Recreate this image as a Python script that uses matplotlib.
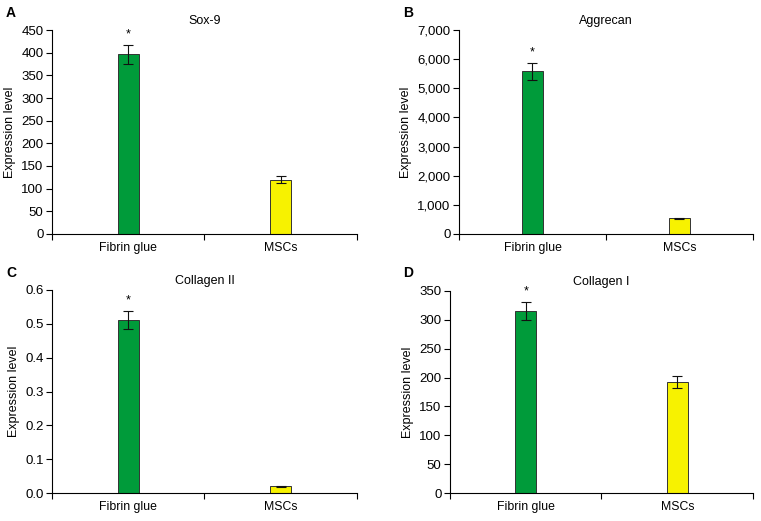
import matplotlib

matplotlib.use("Agg")
import matplotlib.pyplot as plt

plt.rcParams["font.family"] = ["Liberation Sans", "DejaVu Sans"]
plt.rcParams["font.size"] = 9

categories = ["Fibrin glue", "MSCs"]
colors = ["#009B3A", "#F7F200"]

titles = ["Sox-9", "Aggrecan", "Collagen II", "Collagen I"]
letters = ["A", "B", "C", "D"]

sox9_vals = [397, 120]
sox9_err = [21, 8]
aggrecan_vals = [5590, 540]
aggrecan_err = [290, 25]
col2_vals = [0.512, 0.020]
col2_err = [0.026, 0.002]
col1_vals = [316, 192]
col1_err = [15.5, 10.5]

values = [sox9_vals, aggrecan_vals, col2_vals, col1_vals]
errors = [sox9_err, aggrecan_err, col2_err, col1_err]
ylims = [(0, 450), (0, 7000), (0, 0.6), (0, 350)]
ysteps = [50, 1000, 0.1, 50]
yfmts = ["{:.0f}", "{:,.0f}", "{:.1f}", "{:.0f}"]

# axes rectangles in figure fractions (left, bottom, width, height)
rects = [
    (0.0683, 0.5509, 0.4007, 0.3915),
    (0.6031, 0.5509, 0.3864, 0.3915),
    (0.0683, 0.0537, 0.4007, 0.3897),
    (0.5913, 0.0537, 0.3982, 0.3878),
]
letter_pos = [(0.008, 0.975), (0.530, 0.975), (0.008, 0.476), (0.530, 0.476)]

fig = plt.figure(figsize=(7.61, 5.21), dpi=100)

for i in range(4):
    ax = fig.add_axes(rects[i])
    x = [0, 1]
    ax.bar(x, values[i], width=0.14, color=colors, edgecolor="#333333", linewidth=0.7, zorder=2)
    ax.errorbar(x, values[i], yerr=errors[i], fmt="none", ecolor="#111111",
                elinewidth=0.8, capsize=3.5, capthick=0.8, zorder=3)
    top = values[i][0] + errors[i][0]
    ax.annotate("*", (0, top), xytext=(0, 3), textcoords="offset points",
                ha="center", va="bottom", fontsize=9)
    ax.set_xlim(-0.5, 1.5)
    lo, hi = ylims[i]
    ax.set_ylim(lo, hi)
    n = int(round((hi - lo) / ysteps[i]))
    ticks = [lo + k * ysteps[i] for k in range(n + 1)]
    ax.set_yticks(ticks)
    ax.set_yticklabels([yfmts[i].format(t) for t in ticks], fontsize=9.5)
    ax.set_xticks(x)
    ax.set_xticklabels(categories, fontsize=8.8)
    ax.set_xticks([-0.5, 0.5, 1.5], minor=True)
    ax.tick_params(axis="x", which="major", length=0, pad=6)
    ax.tick_params(axis="x", which="minor", length=4, width=0.8)
    ax.tick_params(axis="y", length=4, width=0.8, pad=2)
    for s in ["top", "right"]:
        ax.spines[s].set_visible(False)
    for s in ["left", "bottom"]:
        ax.spines[s].set_linewidth(0.8)
    ax.set_ylabel("Expression level", fontsize=9, labelpad=4)
    ax.set_title(titles[i], fontsize=9, pad=4)
    fig.text(letter_pos[i][0], letter_pos[i][1], letters[i], fontsize=10,
             fontweight="bold", ha="left", va="center")

fig.savefig("out.png", dpi=100)
